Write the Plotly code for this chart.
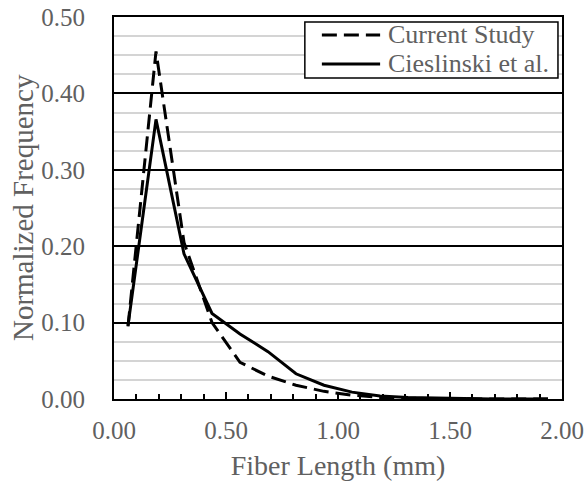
import plotly.graph_objects as go

# Data (bin midpoints, mm)
length_mm = [0.0625, 0.1875, 0.3125, 0.4375, 0.5625, 0.6875, 0.8125, 0.9375,
             1.0625, 1.1875, 1.3125, 1.4375, 1.5625, 1.6875, 1.8125, 1.9375]
current_study = [0.095, 0.455, 0.205, 0.100, 0.048, 0.030, 0.018, 0.010,
                 0.005, 0.002, 0.001, 0.0005, 0.0, 0.0, 0.0, 0.0]
cieslinski = [0.096, 0.366, 0.190, 0.112, 0.085, 0.062, 0.033, 0.018,
              0.009, 0.004, 0.002, 0.001, 0.0005, 0.0, 0.0, 0.0]
series_names = ["Current Study", "Cieslinski et al."]

FONT = "Liberation Serif"
GRAY = "#606060"

fig = go.Figure()
fig.add_trace(go.Scatter(x=length_mm, y=current_study, mode="lines",
                         name=series_names[0],
                         line=dict(color="black", width=3, dash="15px,7px")))
fig.add_trace(go.Scatter(x=length_mm, y=cieslinski, mode="lines",
                         name=series_names[1],
                         line=dict(color="black", width=3)))

# Manual legend
fig.add_shape(type="rect", xref="paper", yref="paper", x0=0.426, x1=0.991,
              y0=0.840, y1=0.987, line=dict(color="black", width=1.5),
              fillcolor="white", layer="above")
legend_y = [0.953, 0.877]
dashes = ["15px,7px", "solid"]
for name, ly, d in zip(series_names, legend_y, dashes):
    fig.add_shape(type="line", xref="paper", yref="paper", x0=0.464, x1=0.594,
                  y0=ly, y1=ly, line=dict(color="black", width=3, dash=d),
                  layer="above")
    fig.add_annotation(xref="paper", yref="paper", x=0.607, y=ly, text=name,
                       showarrow=False, xanchor="left", yanchor="middle",
                       font=dict(family=FONT, size=26, color=GRAY))

# Y-axis title as a rotated annotation for precise placement
fig.add_annotation(xref="paper", yref="paper", x=-0.203, y=0.5,
                   text="Normalized Frequency", textangle=-90, showarrow=False,
                   xanchor="center", yanchor="middle",
                   font=dict(family=FONT, size=29, color=GRAY))

fig.update_layout(
    width=587, height=490,
    margin=dict(l=114, r=25, t=17, b=91),
    plot_bgcolor="white", paper_bgcolor="white",
    showlegend=False,
    font=dict(family=FONT, color=GRAY),
)
fig.update_xaxes(
    range=[0, 2.0], dtick=0.5, tick0=0, tickformat=".2f",
    showgrid=False, zeroline=False, automargin=False,
    showline=True, linecolor="black", linewidth=2, mirror=True,
    ticks="inside", ticklen=7, tickwidth=1.5, tickcolor="black",
    minor=dict(dtick=0.1, ticks="inside", ticklen=5, tickwidth=1.5,
               tickcolor="black", showgrid=False),
    tickfont=dict(family=FONT, size=25, color=GRAY),
    ticklabelstandoff=8,
    title=dict(text="Fiber Length (mm)", font=dict(family=FONT, size=28, color=GRAY),
               standoff=12),
)
fig.update_yaxes(
    range=[0, 0.5], dtick=0.1, tick0=0, tickformat=".2f",
    showgrid=True, gridcolor="black", gridwidth=2,
    zeroline=False, automargin=False,
    showline=True, linecolor="black", linewidth=2, mirror=True,
    ticks="",
    minor=dict(dtick=0.025, showgrid=True, gridcolor="#d4d4d4", gridwidth=2),
    tickfont=dict(family=FONT, size=25, color=GRAY),
    ticklabelstandoff=22,
)

fig.write_html("out.html")
